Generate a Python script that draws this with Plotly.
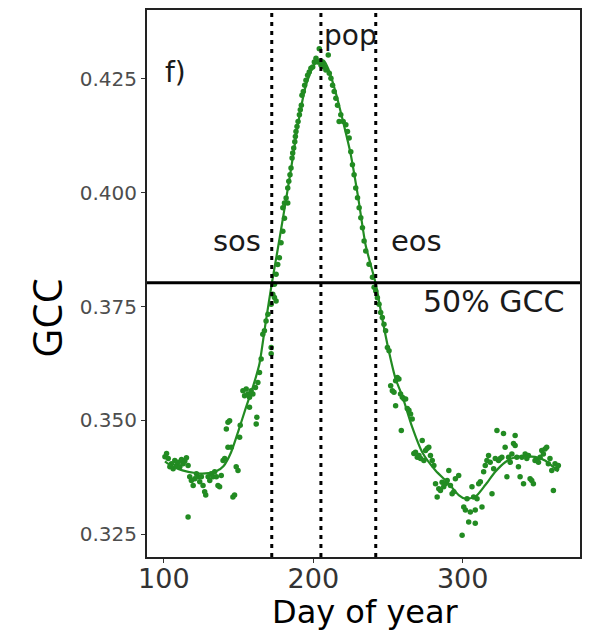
import plotly.graph_objects as go

# ---- observed GCC points (day of year, GCC) ----
obs_day = [
    100.7, 101.8, 102.9, 104.0, 105.1, 106.2, 107.3, 108.4, 109.6, 110.7, 111.8, 112.9, 114.0, 115.1,
    116.2, 116.2, 117.3, 118.4, 119.6, 120.7, 121.8, 122.9, 124.0, 125.1, 126.2, 127.3, 128.0, 129.6,
    130.7, 131.8, 132.9, 134.0, 135.1, 136.2, 137.3, 138.4, 139.6, 140.7, 141.8, 142.9, 144.0, 142.9,
    145.1, 146.2, 147.3, 148.4, 149.6, 150.7, 151.1, 152.9, 154.0, 155.1, 156.2, 157.3, 158.4, 157.3,
    159.6, 161.3, 161.8, 162.2, 162.9, 164.0,
    165.1, 166.2, 167.3, 168.4, 169.6, 171.8, 171.8, 171.8, 172.9, 174.0, 174.0, 175.1, 175.1,
    176.2, 177.3, 178.4, 179.6, 180.7, 182.9,
    179.6, 180.7, 181.8, 182.9, 183.6, 184.4, 185.1, 185.8, 186.2, 186.9, 187.6, 188.0, 188.4, 189.1,
    189.8, 190.7, 191.3, 192.0, 192.4, 193.3, 194.2, 195.1, 196.2, 197.3, 198.4, 199.6, 200.7, 201.8,
    202.9, 204.0, 205.1, 206.2, 207.3, 208.4, 210.0, 210.7, 211.8, 212.9, 214.0, 215.1, 216.2, 217.3,
    218.4, 220.0, 221.8, 222.9, 224.0, 225.1, 226.2, 227.3, 228.4, 229.6, 230.7, 231.8, 232.9, 234.0,
    235.1, 237.3, 239.6, 240.7,
    241.8, 242.9, 244.0, 245.1, 246.2, 247.3, 248.4, 249.6,
    250.7, 251.8, 252.9, 254.0, 255.1, 256.2, 257.3, 255.1, 258.4, 259.6, 260.7, 261.8, 262.9, 264.0,
    265.1, 266.2, 258.9, 267.3, 268.4, 269.6, 270.7, 271.8, 272.9, 274.0, 275.1, 276.2, 277.3, 278.4,
    279.6, 280.7, 281.8, 282.9, 284.0, 285.1, 286.2, 287.3, 288.4, 289.6, 290.7, 291.8, 292.9, 294.0,
    295.1, 297.3, 299.6, 300.7, 301.8, 302.9, 304.0, 305.1, 306.2, 307.3, 308.4, 308.4, 309.6, 310.7,
    311.8, 312.9, 314.0, 315.1, 316.2, 317.3, 318.4, 319.6, 320.7, 321.8, 322.9, 324.0, 325.1, 326.2,
    327.3, 328.4, 329.6, 330.7, 331.8, 332.9, 334.0, 335.1, 335.1, 336.2, 337.3, 338.4, 339.6, 340.7,
    341.8, 342.9, 344.0, 345.1, 346.2, 347.3, 348.4, 349.6, 350.7, 351.8, 352.9, 354.0, 355.1, 356.2,
    357.3, 358.4, 359.6, 360.7, 361.8, 362.9, 364.0,
]
obs_gcc = [
    0.3420, 0.3427, 0.3416, 0.3398, 0.3405, 0.3394, 0.3412, 0.3401, 0.3408, 0.3398, 0.3414, 0.3405, 0.3411, 0.3418,
    0.3401, 0.3288, 0.3376, 0.3368, 0.3357, 0.3372, 0.3383, 0.3376, 0.3365, 0.3376, 0.3357, 0.3343, 0.3336, 0.3376,
    0.3368, 0.3383, 0.3376, 0.3387, 0.3376, 0.3357, 0.3354, 0.3379, 0.3412, 0.3416, 0.3481, 0.3496, 0.3499, 0.3441,
    0.3441, 0.3332, 0.3336, 0.3398, 0.3390, 0.3463, 0.3489, 0.3565, 0.3554, 0.3569, 0.3558, 0.3551, 0.3565, 0.3529,
    0.3558, 0.3572, 0.3492, 0.3507, 0.3583, 0.3605,
    0.3635, 0.3689, 0.3697, 0.3718, 0.3733, 0.3755, 0.3660, 0.3646, 0.3777, 0.3799, 0.3770, 0.3821, 0.3762,
    0.3842, 0.3857, 0.3890, 0.3915, 0.3944, 0.3977,
    0.3967, 0.3977, 0.3988, 0.4010, 0.4025, 0.4039, 0.4054, 0.4076, 0.4087, 0.4098, 0.4112, 0.4123, 0.4134, 0.4145,
    0.4156, 0.4171, 0.4182, 0.4192, 0.4214, 0.4222, 0.4236, 0.4247, 0.4258, 0.4265, 0.4273, 0.4276, 0.4287, 0.4295,
    0.4287, 0.4316, 0.4280, 0.4284, 0.4276, 0.4269, 0.4302, 0.4262, 0.4251, 0.4236, 0.4222, 0.4207, 0.4192, 0.4156,
    0.4171, 0.4156, 0.4149, 0.4134, 0.4120, 0.4090, 0.4061, 0.4039, 0.4010, 0.3989, 0.3967, 0.3945, 0.3923, 0.3894,
    0.3872, 0.3843, 0.3814, 0.3792,
    0.3784, 0.3769, 0.3755, 0.3737, 0.3726, 0.3711, 0.3697, 0.3660,
    0.3653, 0.3576, 0.3565, 0.3562, 0.3587, 0.3594, 0.3591, 0.3532, 0.3558, 0.3551, 0.3547, 0.3547, 0.3526, 0.3522,
    0.3514, 0.3503, 0.3478, 0.3427, 0.3430, 0.3419, 0.3423, 0.3416, 0.3456, 0.3412, 0.3434, 0.3438, 0.3441, 0.3423,
    0.3412, 0.3401, 0.3361, 0.3332, 0.3350, 0.3346, 0.3364, 0.3354, 0.3361, 0.3368, 0.3390, 0.3357, 0.3339, 0.3343,
    0.3372, 0.3379, 0.3248, 0.3310, 0.3303, 0.3328, 0.3277, 0.3299, 0.3354, 0.3332, 0.3274, 0.3303, 0.3328, 0.3361,
    0.3365, 0.3310, 0.3387, 0.3401, 0.3412, 0.3423, 0.3408, 0.3339, 0.3394, 0.3416, 0.3478, 0.3412, 0.3416, 0.3419,
    0.3471, 0.3441, 0.3376, 0.3419, 0.3408, 0.3426, 0.3449, 0.3467, 0.3445, 0.3419, 0.3398, 0.3376, 0.3419, 0.3361,
    0.3426, 0.3416, 0.3423, 0.3372, 0.3368, 0.3361, 0.3412, 0.3412, 0.3408, 0.3419, 0.3434, 0.3426, 0.3437, 0.3441,
    0.3405, 0.3416, 0.3390, 0.3346, 0.3405, 0.3394, 0.3401,
]

# ---- fitted curve ----
fit_day = [100.7, 105, 110, 115, 120, 125, 130, 135, 140, 145, 150, 155, 160, 164, 168, 172.2, 176, 180,
           185, 190, 195, 200, 204, 207, 210, 215, 220, 225, 230, 235, 241.8, 246, 250.7, 255, 259.6,
           266.2, 272.9, 281.8, 290.7, 297.3, 301.8, 308.4, 315.1, 321.8, 328.4, 335.1, 341.8, 348.4,
           355.1, 364]
fit_gcc = [0.3410, 0.3400, 0.3393, 0.3388, 0.3385, 0.3383, 0.3384, 0.3388, 0.3400, 0.3430, 0.3478, 0.3529,
           0.3578, 0.3625, 0.3712, 0.3800, 0.3872, 0.3950, 0.4050, 0.4155, 0.4235, 0.4278, 0.4292, 0.4290,
           0.4272, 0.4220, 0.4155, 0.4085, 0.3990, 0.3885, 0.3800, 0.3726, 0.3650, 0.3592, 0.3553,
           0.3485, 0.3430, 0.3390, 0.3361, 0.3336, 0.3328, 0.3332, 0.3358, 0.3387, 0.3408, 0.3419, 0.3421,
           0.3420, 0.3412, 0.3388]

# ---- phenology markers ----
sos_day = 172.2
pop_day = 205.1
eos_day = 241.8
gcc_50 = 0.3802

x_ticks = [100, 200, 300]
y_ticks = [0.325, 0.350, 0.375, 0.400, 0.425]
y_ticklabels = ["0.325", "0.350", "0.375", "0.400", "0.425"]

GREEN = "#228B22"

fig = go.Figure()
fig.add_trace(go.Scatter(x=obs_day, y=obs_gcc, mode="markers",
                         marker=dict(color=GREEN, size=5.5, line=dict(width=0)),
                         showlegend=False, hoverinfo="skip"))
fig.add_trace(go.Scatter(x=fit_day, y=fit_gcc, mode="lines",
                         line=dict(color=GREEN, width=2.2, shape="spline", smoothing=0.6),
                         showlegend=False, hoverinfo="skip"))

for d in [sos_day, pop_day, eos_day]:
    fig.add_shape(type="line", xref="x", yref="paper", x0=d, x1=d, y0=0, y1=1,
                  line=dict(color="black", width=3, dash="4px,5px"))
fig.add_shape(type="line", xref="paper", yref="y", x0=0, x1=1, y0=gcc_50, y1=gcc_50,
              line=dict(color="black", width=3))

# plot area in pixels
L, R, T, B = 147, 580, 8, 557
W, H = 590, 632
def px(xp):
    return (xp - L) / (R - L)
def py(yp):
    return (B - yp) / (B - T)

txt = dict(family="DejaVu Sans", color="#1a1a1a")
annos = [
    ("f)", 175, 71, 28),
    ("pop", 350, 34, 28),
    ("sos", 237, 240, 29),
    ("eos", 416, 240, 29),
    ("50% GCC", 493, 301, 30),
]
for t, xx, yy, s in annos:
    fig.add_annotation(text=t, x=px(xx), y=py(yy), xref="paper", yref="paper",
                       xanchor="center", yanchor="middle", showarrow=False,
                       font=dict(size=s, **txt))

fig.add_annotation(text="GCC", x=px(47), y=py(318), xref="paper", yref="paper",
                   xanchor="center", yanchor="middle", showarrow=False, textangle=-90,
                   font=dict(family="Open Sans", size=40, color="black"))
fig.add_annotation(text="Day of year", x=px(365), y=py(612), xref="paper", yref="paper",
                   xanchor="center", yanchor="middle", showarrow=False,
                   font=dict(family="DejaVu Sans", size=32, color="black"))

fig.update_layout(
    width=W, height=H,
    margin=dict(l=L, r=W - R, t=T, b=H - B),
    plot_bgcolor="white", paper_bgcolor="white",
    xaxis=dict(range=[88.7, 378.5], tickvals=x_ticks, showgrid=False, zeroline=False,
               showline=True, mirror=True, linecolor="#222", linewidth=2,
               ticks="outside", ticklen=4, tickwidth=1, tickcolor="#333",
               ticklabelstandoff=-7,
               tickfont=dict(family="DejaVu Sans", size=27, color="#333")),
    yaxis=dict(range=[0.32, 0.4401], tickvals=y_ticks, ticktext=y_ticklabels,
               showgrid=False, zeroline=False,
               showline=True, mirror=True, linecolor="#222", linewidth=2,
               ticks="outside", ticklen=4, tickwidth=1, tickcolor="#333",
               tickfont=dict(family="DejaVu Sans", size=20, color="#4d4d4d")),
)

fig.write_html("out.html", config={"displayModeBar": False},
               post_script="document.body.style.margin='0';")
